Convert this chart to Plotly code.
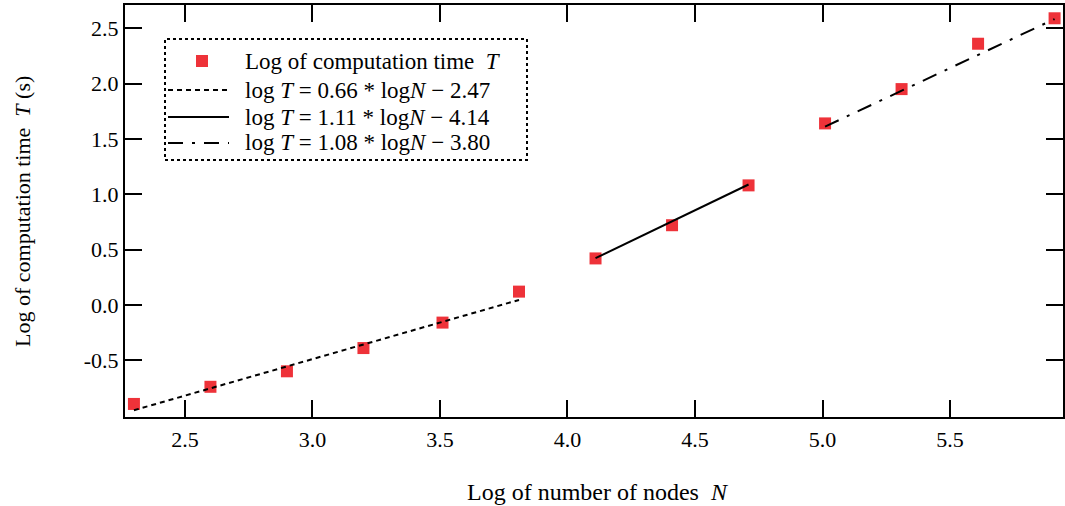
import plotly.graph_objects as go

# Data
log_n = [2.30, 2.60, 2.90, 3.20, 3.51, 3.81, 4.11, 4.41, 4.71, 5.01, 5.31, 5.61, 5.91]
log_t = [-0.895, -0.74, -0.60, -0.39, -0.16, 0.12, 0.42, 0.72, 1.08, 1.64, 1.95, 2.36, 2.59]

fit1_x = [2.30, 3.81]
fit1_y = [-0.952, 0.045]
fit2_x = [4.11, 4.71]
fit2_y = [0.422, 1.088]
fit3_x = [5.01, 5.91]
fit3_y = [1.611, 2.583]

x_ticks = [2.5, 3.0, 3.5, 4.0, 4.5, 5.0, 5.5]
y_ticks = [-0.5, 0.0, 0.5, 1.0, 1.5, 2.0, 2.5]

x_title = "Log of number of nodes  <i>N</i>"
y_title = "Log of computation time  <i>T</i> (s)"

legend_labels = [
    "Log of computation time  <i>T</i>",
    "log <i>T</i> = 0.66 * log<i>N</i> − 2.47",
    "log <i>T</i> = 1.11 * log<i>N</i> − 4.14",
    "log <i>T</i> = 1.08 * log<i>N</i> − 3.80",
]

FONT = "Liberation Serif"
RED = "#ee3239"
DOT = "5px,4px"
DASHDOT = "15px,9px,3px,9px"

W, H = 1065, 506
ML, MR, MT, MB = 125, 2, 5, 89
PW, PH = W - ML - MR, H - MT - MB


def px(xp):
    return (xp - ML) / PW


def py(yp):
    return (H - MB - yp) / PH


fig = go.Figure()
fig.add_trace(go.Scatter(x=log_n, y=log_t, mode="markers", cliponaxis=False,
                         marker=dict(symbol="square", size=12, color=RED, line=dict(width=0)),
                         name=legend_labels[0]))
fig.add_trace(go.Scatter(x=fit1_x, y=fit1_y, mode="lines",
                         line=dict(color="black", width=2, dash=DOT), name=legend_labels[1]))
fig.add_trace(go.Scatter(x=fit2_x, y=fit2_y, mode="lines",
                         line=dict(color="black", width=2), name=legend_labels[2]))
fig.add_trace(go.Scatter(x=fit3_x, y=fit3_y, mode="lines",
                         line=dict(color="black", width=2, dash=DASHDOT), name=legend_labels[3]))

axis_common = dict(showline=True, linecolor="black", linewidth=2, mirror="ticks",
                   ticks="inside", ticklen=17, tickwidth=2, tickcolor="black",
                   showgrid=False, zeroline=False,
                   tickfont=dict(family=FONT, size=22, color="black"))

fig.update_xaxes(range=[2.265, 5.943], tickvals=x_ticks, ticktext=[f"{v:.1f}" for v in x_ticks],
                 ticklabelstandoff=2, **axis_common)
fig.update_yaxes(range=[-1.013, 2.71], tickvals=y_ticks, ticktext=[f"{v:.1f}" for v in y_ticks],
                 ticklabelstandoff=0, **axis_common)

# Axis titles
fig.add_annotation(xref="paper", yref="paper", x=px(598), y=py(492), xanchor="center", yanchor="middle",
                   text=x_title, showarrow=False, font=dict(family=FONT, size=24, color="black"))
fig.add_annotation(xref="paper", yref="paper", x=px(22), y=py(212), xanchor="center", yanchor="middle",
                   text=y_title, textangle=-90, showarrow=False, font=dict(family=FONT, size=22, color="black"))

# Legend drawn by hand (frame, handles, labels)
fig.add_shape(type="rect", xref="paper", yref="paper",
              x0=px(165), x1=px(527), y0=py(160), y1=py(39),
              line=dict(color="black", width=2, dash="3px,3px"), fillcolor="rgba(0,0,0,0)", layer="above")
rows = [61, 90, 117, 143]
fig.add_shape(type="rect", xref="paper", yref="paper",
              x0=px(196), x1=px(208), y0=py(rows[0] + 6), y1=py(rows[0] - 6),
              line=dict(width=0), fillcolor=RED, layer="above")
for yy, dash in zip(rows[1:], [DOT, "solid", DASHDOT]):
    fig.add_shape(type="line", xref="paper", yref="paper",
                  x0=px(168), x1=px(229), y0=py(yy), y1=py(yy),
                  line=dict(color="black", width=2, dash=dash), layer="above")
for yy, lab in zip(rows, legend_labels):
    fig.add_annotation(xref="paper", yref="paper", x=px(243), y=py(yy), xanchor="left", yanchor="middle",
                       text=lab, showarrow=False, font=dict(family=FONT, size=23, color="black"))

fig.update_layout(
    width=W, height=H,
    margin=dict(l=ML, r=MR, t=MT, b=MB, autoexpand=False),
    paper_bgcolor="white", plot_bgcolor="white",
    font=dict(family=FONT, size=22, color="black"),
    showlegend=False,
)

fig.write_html("out.html", config={"displayModeBar": False},
               post_script="document.body.style.margin='0px';")
